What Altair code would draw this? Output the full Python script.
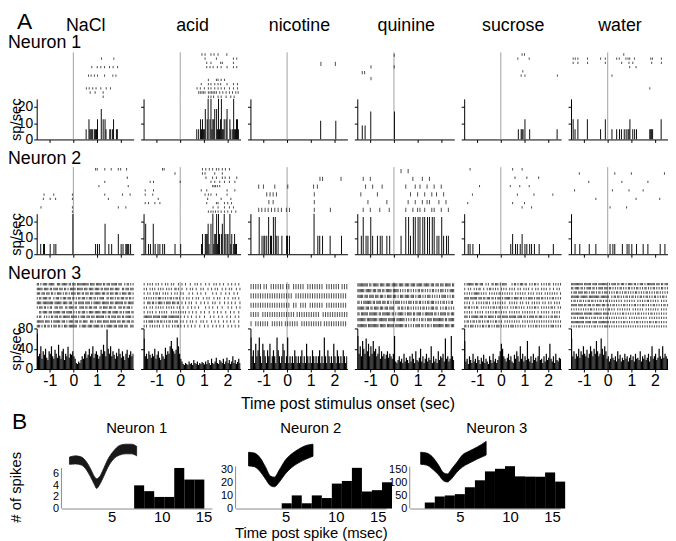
import altair as alt
import pandas as pd

FONT = "Liberation Sans"
GRAY = "#a0a0a0"
BAXIS = "#8a8a8a"

TASTES = ["NaCl", "acid", "nicotine", "quinine", "sucrose", "water"]
T0, T1 = -1.55, 2.55
PW, RH, PH = 98, 47, 41
GAP = 10
BLOCK_GAP = 28

TRIALS = {1: [11, 11, 6, 8, 11, 11], 2: [11, 11, 6, 6, 11, 11], 3: [10, 10, 5, 8, 10, 11]}

# ---- Neuron 1 rasters (spike times, s) per trial row ----
N1_SPIKES = {
    "NaCl": [[], [1.19, 1.71], [], [0.78, 1.01, 1.16, 1.32, 1.53, 1.68, 1.87], [],
             [0.64, 0.75, 0.89, 1.02, 1.32, 1.67, 1.80], [], [], [0.55, 0.67, 0.82, 0.96, 1.16, 1.39, 1.57],
             [0.71, 0.92, 1.26], [1.26]],
    "acid": [[0.92, 1.05, 1.30, 1.43, 1.60, 1.97], [1.05, 1.53, 2.25, 2.39], [1.12, 1.30, 1.71, 1.78, 2.25],
             [1.12, 1.26, 1.39, 1.57, 1.73, 1.98, 2.25, 2.39], [], [], [1.19, 1.53, 1.60, 1.73, 1.87],
             [0.89, 1.19, 1.30, 1.46, 1.60, 1.71, 1.98, 2.25, 2.42],
             [0.71, 0.85, 1.02, 1.19, 1.30, 1.46, 1.60, 1.73, 1.87, 2.08, 2.25, 2.42],
             [0.78, 0.85, 0.92, 0.98, 1.05, 1.19, 1.26, 1.33, 1.39, 1.46, 1.53, 1.67, 1.80, 1.94, 2.08, 2.21, 2.35, 2.45],
             [1.19, 1.30, 1.41, 1.60, 1.73, 1.94, 2.14, 2.28]],
    "nicotine": [[], [1.43, 2.04], [], [], [], []],
    "quinine": [[0.01], [], [-0.97, 0.01], [-1.34, -1.24], [-0.97], [], [], []],
    "sucrose": [[0.90, 1.00], [0.72, 1.20], [], [], [0.93], [0.86, 1.02, 2.39], [], [], [], [], []],
    "water": [[0.68], [-1.46, -1.37, -1.26, -0.85, -0.30, -0.10, 0.38, 0.49, 0.77, 0.86, 0.93, 1.13, 1.82, 1.89, 2.27],
              [-1.46, -1.26, -0.85, -0.10, 0.59, 0.90, 1.06, 1.86, 2.27], [0.93, 1.20], [], [0.18], [], [], [1.78], [], []],
}

# ---- Neuron 2 rasters ----
N2_SPIKES = {
    "NaCl": [[0.94, 1.01, 1.33, 1.60, 1.90, 2.00, 2.25], [], [2.28], [1.33], [1.08, 2.32], [],
             [-1.24, -0.83, -0.04, 1.33, 2.08, 2.40], [-1.27, -0.98, -0.75, -0.04, 1.48], [],
             [-1.37, -0.04, 1.90, 2.22], [-0.04]],
    "acid": [[-0.75, -0.68, 0.94, 1.08, 1.23, 1.37, 1.53, 1.63, 1.78, 1.91, 2.08],
             [-0.22, 0.94, 1.05, 1.46, 1.78], [1.09, 1.37, 1.53, 1.78, 1.90, 2.08, 2.39],
             [-1.27, -1.13, 0.0, 1.30, 1.46, 1.67, 1.87, 2.08, 2.31], [1.37, 1.43, 1.49, 1.57, 1.67],
             [-1.48, -1.13, 0.89, 1.12, 1.98, 2.31], [-1.48, -1.16, 1.05, 1.19, 1.30, 1.53, 1.98],
             [-0.93, 1.16, 1.73, 2.14], [-1.48, -1.34, -1.07, -0.86, 1.12, 1.53, 1.60, 1.87, 2.01, 2.17],
             [1.39, 1.60, 1.87, 2.08, 2.25], [1.19, 1.30, 1.39, 1.49, 1.60, 1.73, 1.87, 2.01, 2.17, 2.35]],
    "nicotine": [[], [1.39, 1.50, 2.28], [-1.20, -1.00, -0.52, 0.03, 1.12, 1.28], [-0.86, -0.72, -0.59, -0.45, 1.15],
                 [-0.77, -0.59, 1.15], [-1.20, -1.07, -0.93, -0.80, -0.66, -0.52, -0.38, -0.24, -0.03, 0.10, 1.15, 1.83]],
    "quinine": [[0.30, 0.60], [-1.30, -1.00, 0.80, 1.20, 1.50], [-1.20, -0.90, -0.50, 0.50, 0.90, 1.10, 1.40, 1.70, 2.00],
                [-1.40, -0.70, 0.70, 1.00, 1.30, 1.60, 1.80, 2.10], [-1.10, -0.30, 0.60, 0.90, 1.20, 1.40, 1.50, 1.90, 2.20],
                [-1.30, -1.00, -0.60, -0.20, 0.50, 0.80, 1.00, 1.10, 1.30, 1.60, 1.70, 2.00, 2.30]],
    "sucrose": [[-1.30, 0.50, 0.90], [], [0.60, 1.10, 1.60], [], [-0.90, 0.40, 0.80, 1.20], [],
                [-1.20, 0.70, 1.40, 2.20], [], [-1.40, 0.50, 1.00], [0.90, 1.30], []],
    "water": [[], [-1.20, 0.30, 1.00, 2.40], [], [-0.80, 0.60, 1.70], [], [-1.40, 0.20, 0.90, 1.50], [],
              [-0.50, 1.20, 2.20], [], [0.10, 0.80], []],
}

# ---- Neuron 3 rasters: one character per 50 ms bin from -1.55 s ('#' = spike) ----
N3_BIN = 0.05
N3_RASTER = {
    "NaCl": [
        "##.#.####.#####..###.#####.##.###.##########.####.#####.##.###.#####.###..#.##.#.###",
        "#####.####.##.####.###.##.#.#####.#####.###.####.####.##.####.###.####..##.###.####.",
        "###.###.###.##.#.####.#.##.#.####.###.##.###.###.#####.###.##.###.###.#.####.###.##",
        "#.##.####.##..#.###.#.###.###.##.#.##.###.#.###.##.#.####..##.###.#.##.###.##.##.##",
        "####.#########.######.####.###..##.#####.####.#.######.######.###.#######.##.#####.#",
        "#.###.##.#.##..###.###..##.####.##..####.##.###.###..##.####.###.##..###.##.###.#.##",
        "..##.####.###.######.###.#####.#.#.##.###.#.####.#####.####.###.#####.##.#.####.####",
        "#.##..#.#.#.##.###.##.######.#####.#.####.###.###.#######.#.##.####.###.##.#####.###",
        "######.####.#.######.###.#.####.###.##.####..###.#.####.#####.#####.###.###.###.####",
        "###.#.##.##.#.###.##.#.###.#######..#.####.####.#####.##.#.#####.###.####.###..####",
    ],
    "acid": [
        "#..#.#.#..#.#..#..#.#..#.#...#..#..#...#...#.#..#...#..#...#.#..#..#...#..#..#..#..#",
        "#.#..#.#.#..#.#.#..#.#.#..##.#..#...#..#.#..#...#.#...#..#..#.#...#..#..#.#...#..#..",
        "#..#.#..#.##.#..#.#.#..#..#.#..#.#....#..#...#..#...#.....#..#...#...#..#...#..#....",
        "#.#.#.#.#.#.###.#.#.#.##.#.##.#..#..#.#..#..#.#...#..#.#...#..#.#...#..#...#.#..#..#",
        "#..###.##.#.####.#.####.###.##..#..#..#.#...#...#..#..#...#.#...#...#..#..#..#...#..#",
        "#.#..#.#..#.#.#.#..#.#.#.#..#.#..#...#..#..#..#.....#..#..#...#...#....#..#...#..#...",
        "#..#.#.#..#..#.#.#.#...#.#.#.#.#.#.#..#..#..#...#..#...#...#..#..#...#...#..#...#...#",
        "#######.######.#####.#########.#..#..#..#...#..#...#....#..#...#..#...#..#...#..#..#.",
        "#.#.####.#.##.##.#.#.##.#.###..#.#..#..#.#..#...#.#..#...#..#..#...#..#..#..#...#..#",
        "#.#..#.#.#.#.#..#..#.#..#.#.##.#..#..#..#..#...#...#..#...#..#..#..#...#..#..#..#...",
    ],
    "nicotine": [
        "#.#.#.#.#..#.#...#.#.#.#.#.#..#.#...#.#.#.#.#...#.#.#.#.#.#.#...#.#.#.#.#.#..#.#.#.#",
        "#.#.#.#.#.#.#.#.#.#.#.#.#.#.#.#.#.#...#.#.#.#.#.#.#.#.#.#.#.#.#.#.#.#.#.#.#.#.#.#.#.#",
        "#.#.#.#.#.#.#.#.#.#.#.#.#.#.#.#.#...#.#...#.#.#...#.#.#.#.#.#...#.#.#.#.#.#.#.#.#...#",
        "#.#.#.#...#.#.#.#.#.#.#.#.#.#.#.#.#.#..#.#.#.#.#.#.#.#.#.#...#.#.#.#.#.#.#.#.#.#.#.#",
        "#...#.#.#.#.#.#...#.#.#.#.#..#.#.#.#.#.#...#.#.#.#.#.#.#.#.#..#.#.#.#.#.#.#.#.#.#..#",
    ],
    "quinine": [
        "#########.##.#####.####.####.#####.####.####.####.#####.#####.###.###.###.#####.####",
        "######.#####.###.###.##.#####.#####.#.#.#.##.#.#.#.##.##.#.#.#.##.#.#.###.#.#.######",
        "#####.###.####.###.###.#.####.###.#.###.####.###.#.###.#.#.###.#.#.#.#.####.#.#.####",
        "##.#.#######.##.####.###.##.#.#.####.#.#.#.###.#.##.##.#.#.##.###.#.#.#.##.#.#.##.##",
        "######.###.##.####.###.###.####...##.##.#.##.#.#.#.#.#.##.#.#.###.##..#.#.##.#.#.#.#",
        "##.######.#######.##.#######.##.#.#####.#.####.##.####.#.#######.##.#.#####.##.#####",
        "#######.#########.#######.######.#######.#.#.#.##.#.#.##.#.####.#########.##.#######",
        "########.#########.#####.######.#######.##.#.#.#.####.##.#.##.#.#########.####.#####",
    ],
    "sucrose": [
        "#.######.###.###..#.#..##.###.#.####....#.##.#.###.##..#.#.##.#..#.#.#.##..#.#.#.###",
        "#..#.#..#.#.##..#..#.##.#.#.#..#.#.#..#.#.#..#.#..#.#.#..#..#.#..#.#.#..#..#..#.#..#",
        "#.#.#.#.#####.#.#.#..#.#.#.#.##.#.#.#.#.#..#.#.#.#.#..#.#.#..#.#.#..#.#.#.#.#.#..#.#",
        "####.######.###.##.###.##.#.###.#.#####.#.####.##.#.#.####.#.###.##.#.#.#.##.#.#.#.#",
        "#.#.#..#..#.#.#.#.##.#..#.#.#.#.#.#...#.#.#.#..#.#..#.#..#.#.#.#..#.#..#.#..#.#.#.#.",
        "##.##.#.#.##..#.#.#.#.#.##.#.##.#.#.#..#.#.##.#.#.#..#.#.#.##.#..#.#.#.#.##.#..#.#.#",
        "#.#.#.#..#.#.#.#..#.#.#.#.##.#.#.#.#..#.#.#.#.#..#.#.#.#.#.#..#..#.#.#.#..#.#.#.#..#",
        "###.#.######.###.##.#####.#.###.#####.######.####.##.#.####.##.###.#.#.#.##.###.#.##",
        "#.##.#.##.#.##.#.#.##.#.#.##.#.#..#.#.#.#.#.#.#..#.#.#.#.#.#.#.#.#.#.#.#.#.#.#.#.#.#",
        "##.#.###.#.#.#.##.#.##.#.#.###.#.#.#.#.###.#.#.#.#.#..#.#.#.##.#.#.#.#.#.###.#.#.###",
    ],
    "water": [
        "##########.######.####.########.#.####.##.###.#.####.##.#.###.#.#######.###.##.######",
        "##.####.##.#.####.##.#.####.###.##.#.#.#.##.#.#.##.#.#.##.#.#.##.#.#.##.#.#.##.#.##.#",
        "#.###.####.###.#.###.#.##.#.###.#.#.#.##.#.#.##.#.#.#.##.#.#.#.##.#.#.#.##.#.#.#.#.##",
        "#######.######.#########.#######..#.##.##.#.#.##.#.##.#.#.##.#.##.#.#.##.#.#.##.#.#.#",
        "#.##.#.##.#.#.##.##.#.#.##.#.##.#.#.#.#.#.#..#.#.#.#.#..#.#.#.#.##.#.#.#.#..#.#.#.#.#",
        "#####.####.##.###.##.####.###.##.#.##.#.#.#.##.#.#.#.##.#.#.##.#.#.#.##.#.#.#.##.#.#",
        "#.#.#.#.#.#.#.#.##.#.#.#.#.#.#.##.#.#..#.#.#.#.#.#..#.#.#.#.#..#.#.#.#.#.#..#.#.#.#.",
        "##########.#######.#######.#####.#.#.#.#.#.##.#.#.#.#.#.##.#.#.#.#.##.#.#.#.#.#.#.##",
        "#.##.#.####.##.#.#.##.#.##.#.##.#.#.#.#.#.#.#.#..#.#.#.#.#.#.#.#..#.#.#.#.#.#.#.#.#.",
        "###########.#####.####.#########.#.##.#.#.#.##.#.#.#.#.##.#.#.#.#.##.#.##.#.#.#.#.##",
        "#.#.#.##.#.#.#.#.#.##.#.#.#.###.#.#.#.#.#.#.#.#.#.#.#.#.#.#.#.#.#.#.#.#.#.#.#.#.#.##",
    ],
}

# ---- Neuron 3 PSTH (sp/sec), 50 ms bins from -1.55 s ----
N3_PSTH = {
    "NaCl": [70, 25, 30, 45, 20, 35, 28, 40, 22, 18, 35, 30, 45, 25, 20, 38, 30, 22, 48, 26, 20, 35, 40, 18, 30, 25, 44,
             22, 30, 28, 35, 25, 20, 12, 10, 15, 12, 18, 25, 20, 30, 35, 22, 28, 40, 25, 30, 45, 22, 30, 35, 28, 20, 25,
             38, 30, 48, 35, 25, 78, 40, 30, 45, 25, 35, 28, 20, 32, 25, 40, 30, 22, 35, 25, 18, 30, 38, 22, 28, 35, 25, 30],
    "acid": [60, 25, 30, 20, 35, 28, 22, 30, 25, 40, 20, 28, 35, 22, 18, 30, 25, 20, 42, 28, 35, 30, 45, 55, 40, 35, 30,
             38, 62, 45, 30, 20, 15, 10, 8, 12, 10, 8, 15, 10, 12, 8, 18, 12, 10, 15, 8, 12, 10, 14, 12, 9, 15, 10, 18,
             12, 8, 20, 12, 10, 15, 22, 12, 10, 18, 15, 12, 20, 10, 15, 22, 12, 18, 10, 15, 25, 12, 18, 10, 14, 20, 12],
    "nicotine": [62, 25, 37, 12, 50, 25, 37, 62, 25, 12, 50, 37, 25, 12, 37, 25, 50, 12, 25, 37, 25, 12, 62, 37, 25, 12,
                 25, 50, 37, 12, 25, 62, 12, 25, 12, 25, 12, 37, 25, 12, 25, 12, 25, 37, 12, 25, 12, 50, 25, 12, 25, 12,
                 37, 25, 12, 25, 12, 25, 37, 12, 25, 12, 62, 25, 12, 37, 25, 12, 25, 12, 50, 25, 12, 37, 25, 12, 25, 12,
                 37, 25, 12, 25],
    "quinine": [65, 30, 45, 25, 55, 40, 30, 60, 35, 50, 25, 45, 30, 55, 35, 40, 25, 30, 45, 20, 35, 25, 30, 20, 28, 35,
                22, 30, 25, 20, 30, 65, 15, 12, 18, 25, 15, 20, 12, 30, 15, 22, 18, 12, 25, 15, 30, 20, 12, 35, 18, 15,
                22, 40, 15, 25, 12, 20, 30, 15, 22, 18, 45, 12, 25, 15, 20, 12, 35, 18, 25, 22, 30, 15, 60, 20, 25, 15,
                20, 65, 25, 18],
    "sucrose": [55, 15, 20, 10, 25, 18, 12, 30, 15, 20, 12, 25, 18, 10, 22, 15, 28, 12, 20, 15, 10, 25, 18, 12, 30, 15,
                20, 12, 18, 25, 35, 50, 40, 25, 20, 15, 22, 30, 18, 25, 15, 12, 28, 20, 35, 25, 15, 45, 20, 30, 15, 25,
                18, 55, 20, 15, 25, 12, 30, 18, 22, 15, 25, 45, 18, 20, 12, 25, 15, 30, 18, 22, 50, 20, 15, 25, 12, 30,
                18, 15, 22, 20],
    "water": [60, 25, 35, 20, 30, 25, 40, 22, 35, 28, 45, 30, 25, 38, 22, 30, 45, 35, 25, 40, 30, 55, 35, 25, 30, 60, 40,
              28, 45, 35, 20, 25, 15, 20, 30, 22, 18, 25, 15, 35, 20, 28, 15, 22, 18, 30, 20, 25, 15, 22, 28, 18, 25, 15,
              30, 20, 22, 18, 35, 15, 25, 20, 28, 18, 22, 30, 15, 25, 45, 20, 25, 30, 18, 22, 40, 25, 20, 45, 22, 30, 25, 20],
}

PSTH_TICKS = {1: [0, 10, 20], 2: [0, 10, 20], 3: [0, 40, 80]}
PSTH_MAX = {1: 25, 2: 25, 3: 80}
RATE_PER_SPIKE_11 = 6.25     # sp/sec contributed by one spike in an 11-trial panel
TIME_TICKS = [-1, 0, 1, 2]

# ---- Panel B: ISI histograms (msec) and spike waveforms ----
B_BIN_START = {1: [7.25, 8.25, 9.25, 10.25, 11.25, 12.25, 13.25],
               2: [4.6, 5.6, 6.6, 7.6, 8.6, 9.6, 10.6, 11.6, 12.6, 13.6, 14.6],
               3: [1.5, 2.5, 3.5, 4.5, 5.5, 6.5, 7.5, 8.5, 9.5, 10.5, 11.5, 12.5, 13.5, 14.5]}
B_COUNTS = {1: [4, 3, 2, 2, 7, 5, 5],
            2: [4, 10, 4, 10, 8, 19, 21, 31, 13, 14, 20],
            3: [23, 46, 50, 55, 81, 108, 142, 152, 162, 123, 122, 122, 138, 103]}
B_YTICKS = {1: [0, 2, 4, 6], 2: [0, 10, 20, 30], 3: [0, 50, 100, 150]}
B_YAXIS_TOP = {1: 7, 2: 32, 3: 160}
B_YDOMAIN = {1: 11.1, 2: 49, 3: 246}
B_TITLE_DX = {1: 0, 2: 0, 3: 12}

WAVE_T = {1: [0.8, 1.4, 2.0, 2.5, 2.9, 3.3, 3.5, 3.8, 4.2, 4.6, 5.2, 5.8, 6.4, 7.0, 7.5],
          2: [1.29, 1.88, 2.48, 2.97, 3.47, 3.86, 4.36, 4.95, 5.54, 6.24, 7.03, 7.72],
          3: [1.09, 1.68, 2.28, 2.87, 3.37, 3.76, 4.16, 4.65, 5.25, 5.94, 6.73, 7.62]}
WAVE_MID = {1: [19, 21, 18, 6, -11, -31, -38, -31, -11, 11, 33, 45, 48, 48, 43],
            2: [23, 21, 8, -11, -31, -34, -19, 3, 18, 30, 40, 45],
            3: [25, 23, 13, -4, -21, -24, -14, 1, 18, 28, 38, 50]}
WAVE_SPREAD = {1: [9, 10, 10, 10, 10, 10, 12, 10, 10, 10, 10, 12, 12, 12, 12],
               2: [17, 17, 17, 15, 12, 12, 15, 17, 17, 17, 17, 15],
               3: [15, 15, 15, 12, 10, 10, 12, 12, 15, 15, 15, 17]}
WAVE_DOMAIN = [-100, 60]

LABEL_Y = {1: -4, 2: -3, 3: -3}

# ---------------- data tables ----------------
rows = []
for n, d in ((1, N1_SPIKES), (2, N2_SPIKES)):
    for taste, trials in d.items():
        for i, tr in enumerate(trials):
            for s in tr:
                rows.append({"neuron": n, "taste": taste, "trial": i + 1, "s": s})
for taste, strs in N3_RASTER.items():
    for i, row in enumerate(strs):
        for j, c in enumerate(row):
            t = T0 + N3_BIN * (j + 0.5)
            if c == "#" and t < T1:
                rows.append({"neuron": 3, "taste": taste, "trial": i + 1, "s": round(t, 3)})
SPK = pd.DataFrame(rows)

prow = []
for taste, vals in N3_PSTH.items():
    for i, v in enumerate(vals):
        t = T0 + N3_BIN * i
        if t < T1 - 0.01:
            prow.append({"taste": taste, "t": round(t, 3), "t_end": round(min(t + N3_BIN, T1), 3), "rate": v})
N3P = pd.DataFrame(prow)
STIM = pd.DataFrame({"t": [0.0]})


def xenc(axis):
    return alt.X("t:Q", scale=alt.Scale(domain=[T0, T1], nice=False, zero=False), axis=axis)


def text_layer(label, size, x, y, baseline="alphabetic", align="left"):
    return alt.Chart(pd.DataFrame({"label": [label]})).mark_text(
        align=align, baseline=baseline, fontSize=size, color="black").encode(
        text="label:N", x=alt.value(x), y=alt.value(y))


def raster(n, k):
    taste = TASTES[k]
    ntr = TRIALS[n][k]
    if n == 1:
        axis = alt.Axis(orient="top", domain=False, ticks=False, labels=False, title=taste,
                        titleFontSize=18, titleY=-22, titleBaseline="alphabetic")
    else:
        axis = None
    d = SPK[(SPK.neuron == n) & (SPK.taste == taste)].rename(columns={"s": "t"})
    ysc = alt.Scale(domain=[0.5, ntr + 0.5], reverse=True, nice=False, zero=False)
    stim = alt.Chart(STIM).mark_rule(color=GRAY, strokeWidth=1).encode(x=xenc(axis))
    ticks = alt.Chart(d).mark_tick(orient="vertical", color="black", thickness=1,
                                   size=max(2.0, RH / ntr * 0.55)).encode(
        x=xenc(axis), y=alt.Y("trial:Q", scale=ysc, axis=None))
    layers = [stim, ticks]
    if k == 0:
        layers.append(text_layer(f"Neuron {n}", 18, -29, LABEL_Y[n]))
        if n == 1:
            layers.append(text_layer("A", 23, -20, -42, baseline="top"))
    return alt.layer(*layers).properties(width=PW, height=RH)


def psth(n, k):
    taste = TASTES[k]
    ntr = TRIALS[n][k]
    first = k == 0
    ykw = dict(values=PSTH_TICKS[n], labels=first, tickSize=3, labelFontSize=14, labelPadding=1,
               labelOverlap=False)
    if first:
        ykw.update(title="sp/sec", titleFontSize=15, titleX=-21, titleY=PH / 2, titleBaseline="middle",
                   titleAlign="center", titleAngle=270)
    else:
        ykw.update(title=None)
    yaxis = alt.Axis(**ykw)
    xkw = dict(values=TIME_TICKS, labels=(n == 3), tickSize=3, labelFontSize=16, labelPadding=1,
               labelExpr="'' + datum.value", labelOverlap=False)
    if n == 3 and k == 2:
        xkw.update(title="Time post stimulus onset (sec)", titleFontSize=16, titleX=98, titleY=35,
                   titleBaseline="middle", titleAlign="center")
    else:
        xkw.update(title=None)
    xaxis = alt.Axis(**xkw)
    ysc = alt.Scale(domain=[0, PSTH_MAX[n]], nice=False, zero=True)
    stim = alt.Chart(STIM).mark_rule(color=GRAY, strokeWidth=1).encode(x=xenc(xaxis))
    if n in (1, 2):
        w = RATE_PER_SPIKE_11 * 11 / ntr
        base = (alt.Chart(SPK)
                .transform_filter(f"datum.neuron == {n} && datum.taste == '{taste}'")
                .transform_bin(["t", "t_end"], "s", bin=alt.Bin(step=0.04, extent=[T0, T1 + 0.05]))
                .transform_aggregate(cnt="count()", groupby=["t", "t_end"])
                .transform_calculate(rate=f"datum.cnt * {w}"))
    else:
        base = alt.Chart(N3P[N3P.taste == taste])
    bars = base.mark_bar(color="black", clip=True).encode(
        x=xenc(xaxis), x2="t_end:Q", y=alt.Y("rate:Q", scale=ysc, axis=yaxis), y2=alt.datum(0))
    return alt.layer(stim, bars).properties(width=PW, height=PH)


def gap_cell():
    return alt.Chart(pd.DataFrame({"v": [0]})).mark_point(opacity=0).encode(
        x=alt.value(0), y=alt.value(0)).properties(width=PW, height=BLOCK_GAP)


cells = []
for n in (1, 2, 3):
    cells += [raster(n, k) for k in range(6)]
    cells += [psth(n, k) for k in range(6)]
    if n < 3:
        cells += [gap_cell() for _ in range(6)]

partA = alt.concat(*cells, columns=6, spacing={"row": 0, "column": GAP}, bounds="flush")

BW, BH = 152, 65


def bpanel(n):
    xsc = alt.Scale(domain=[0, 15], nice=False, zero=False)
    ysc = alt.Scale(domain=[0, B_YDOMAIN[n]], nice=False)
    xkw = dict(values=[5, 10, 15], tickSize=0, domainColor=BAXIS, labelFontSize=15, labelPadding=1,
               labelOverlap=False)
    if n == 2:
        xkw.update(title="Time post spike (msec)", titleFontSize=15, titleX=BW / 2, titleY=24,
                   titleBaseline="middle", titleAlign="center")
    else:
        xkw.update(title=None)
    ykw = dict(values=B_YTICKS[n], tickSize=0, domain=False, labelFontSize=11, labelPadding=3,
               labelOverlap=False)
    if n == 1:
        ykw.update(title="# of spikes", titleFontSize=15, titleX=-46, titleY=43, titleBaseline="middle",
                   titleAlign="center", titleAngle=270)
    else:
        ykw.update(title=None)
    xaxis = alt.Axis(**xkw)
    yaxis = alt.Axis(**ykw)
    starts = B_BIN_START[n]
    hist = pd.DataFrame({"t": starts, "t_end": [s + 1 for s in starts], "count": B_COUNTS[n]})
    bars = alt.Chart(hist).mark_bar(color="black").encode(
        x=alt.X("t:Q", scale=xsc, axis=xaxis), x2="t_end:Q",
        y=alt.Y("count:Q", scale=ysc, axis=yaxis), y2=alt.datum(0))
    yline = alt.Chart(pd.DataFrame({"t": [0.0], "y0": [0], "y1": [B_YAXIS_TOP[n]]})).mark_rule(
        color=BAXIS, strokeWidth=1).encode(
        x=alt.X("t:Q", scale=xsc, axis=xaxis), y=alt.Y("y0:Q", scale=ysc, axis=yaxis), y2="y1:Q")
    hist_layer = alt.layer(bars, yline)
    wv = pd.DataFrame({"t": WAVE_T[n], "mid": WAVE_MID[n], "sp": WAVE_SPREAD[n]})
    wsc = alt.Scale(domain=WAVE_DOMAIN, nice=False, zero=False)
    wave = (alt.Chart(wv)
            .transform_calculate(lo="datum.mid - datum.sp", hi="datum.mid + datum.sp")
            .mark_area(color="black", opacity=0.9 if n == 1 else 1.0, interpolate="monotone",
                       stroke="black", strokeWidth=0.8)
            .encode(x=alt.X("t:Q", scale=xsc, axis=xaxis), y=alt.Y("lo:Q", scale=wsc, axis=None), y2="hi:Q"))
    layers = [hist_layer, wave,
              text_layer(f"Neuron {n}", 15, BW / 2 + B_TITLE_DX[n], -23, baseline="top", align="center")]
    if n == 1:
        layers.append(text_layer("B", 23, -50, -33, baseline="top"))
    return alt.layer(*layers).resolve_scale(y="independent").properties(width=BW, height=BH)


bspacer = alt.Chart(pd.DataFrame({"v": [0]})).mark_point(opacity=0).encode(
    x=alt.value(0), y=alt.value(0)).properties(width=1, height=BH)

partB = alt.hconcat(bspacer, bpanel(1), bpanel(2), bpanel(3), spacing=24, bounds="flush")

chart = (alt.vconcat(partA, partB, spacing=0, padding=0)
         .configure_view(stroke=None)
         .configure_axis(labelFont=FONT, titleFont=FONT, labelColor="black", titleColor="black",
                         domainColor="black", tickColor="black", grid=False, titleFontWeight="normal")
         .configure_title(font=FONT, color="black")
         .configure_text(font=FONT))

chart.save("out.html", embed_options={"renderer": "svg", "actions": False})
